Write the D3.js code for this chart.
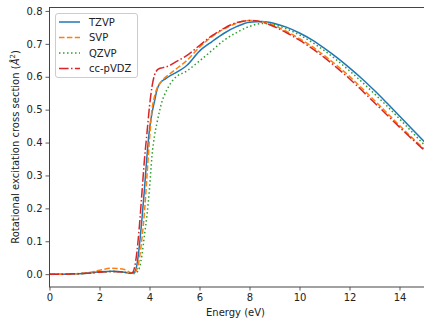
<!DOCTYPE html>
<html>
<head>
<meta charset="utf-8">
<script src="https://cdn.jsdelivr.net/npm/d3@7"></script>
<style>
  body { margin: 0; background: #fff; }
  svg text { font-family: "DejaVu Sans", sans-serif; fill: #222; }
</style>
</head>
<body>
<div id="chart"></div>
<script>
// energies (eV) shared by every series
var energy = [0, 0.5, 1, 1.5, 2, 2.5, 3, 3.2, 3.3, 3.4, 3.5, 3.6, 3.7, 3.8, 3.9, 4.0, 4.1, 4.2, 4.3, 4.4, 4.5, 4.6, 4.8, 5.0,
  5.5, 6.0, 6.5, 7.0, 7.5, 8.0, 8.5, 9.0, 9.5, 10, 10.5, 11, 11.5, 12, 12.5, 13, 13.5, 14, 14.5, 15];

var tzvp = [0, 0, 0.001, 0.003, 0.007, 0.009, 0.006, 0.003, 0.003, 0.006, 0.03, 0.09, 0.17, 0.26, 0.36, 0.44, 0.49, 0.525, 0.56, 0.578, 0.587, 0.592, 0.602, 0.61,
  0.635, 0.678, 0.707, 0.733, 0.753, 0.766, 0.768, 0.762, 0.75, 0.733, 0.712, 0.686, 0.658, 0.627, 0.594, 0.558, 0.52, 0.481, 0.441, 0.402];

var svp = [0, 0, 0.001, 0.004, 0.012, 0.018, 0.014, 0.006, 0.004, 0.005, 0.015, 0.05, 0.11, 0.19, 0.3, 0.41, 0.5, 0.54, 0.565, 0.578, 0.588, 0.596, 0.608, 0.62,
  0.65, 0.69, 0.722, 0.746, 0.763, 0.771, 0.767, 0.755, 0.737, 0.716, 0.692, 0.664, 0.634, 0.601, 0.565, 0.528, 0.49, 0.452, 0.415, 0.38];

var qzvp = [0, 0, 0.001, 0.003, 0.006, 0.008, 0.006, 0.003, 0.002, 0.002, 0.006, 0.02, 0.06, 0.12, 0.18, 0.26, 0.36, 0.42, 0.46, 0.495, 0.525, 0.545, 0.575, 0.595,
  0.618, 0.648, 0.68, 0.712, 0.735, 0.753, 0.762, 0.758, 0.745, 0.727, 0.705, 0.679, 0.65, 0.618, 0.584, 0.548, 0.511, 0.472, 0.432, 0.392];

var ccpvdz = [0, 0, 0.001, 0.003, 0.006, 0.008, 0.006, 0.003, 0.004, 0.02, 0.07, 0.15, 0.25, 0.35, 0.43, 0.51, 0.57, 0.605, 0.62, 0.625, 0.627, 0.629, 0.634, 0.643,
  0.665, 0.695, 0.725, 0.748, 0.765, 0.771, 0.766, 0.752, 0.733, 0.711, 0.686, 0.658, 0.627, 0.594, 0.558, 0.521, 0.484, 0.447, 0.411, 0.376];

var seriesNames = ["TZVP", "SVP", "QZVP", "cc-pVDZ"];
var xTicks = [0, 2, 4, 6, 8, 10, 12, 14];
var yTicks = [0.0, 0.1, 0.2, 0.3, 0.4, 0.5, 0.6, 0.7, 0.8];

var series = [
  { name: seriesNames[0], values: tzvp, color: "#1f77b4", dash: null },
  { name: seriesNames[1], values: svp, color: "#ff7f0e", dash: "5.5,2.4" },
  { name: seriesNames[2], values: qzvp, color: "#2ca02c", dash: "1.5,2.5" },
  { name: seriesNames[3], values: ccpvdz, color: "#d62728", dash: "9.6,2.4,1.5,2.4" }
];

var svgWidth = 424, svgHeight = 320;
var margin = { top: 7, right: 0, bottom: 33, left: 49 };
var width = svgWidth - margin.left - margin.right;
var height = svgHeight - margin.top - margin.bottom;

var svg = d3.select("#chart").append("svg")
  .attr("width", svgWidth)
  .attr("height", svgHeight);

var chartGroup = svg.append("g")
  .attr("transform", `translate(${margin.left}, ${margin.top})`);

var x = d3.scaleLinear().domain([0, 15]).range([0.5, width + 0.5]);
var y = d3.scaleLinear().domain([-0.039, 0.812]).range([height, 0]);

// clip lines to the axes box
svg.append("defs").append("clipPath").attr("id", "clip")
  .append("rect").attr("x", 0).attr("y", 0).attr("width", width + 1).attr("height", height);

var line = d3.line()
  .x(d => x(d[0]))
  .y(d => y(d[1]))
  .curve(d3.curveMonotoneX);

chartGroup.append("g").attr("clip-path", "url(#clip)")
  .selectAll("path")
  .data(series)
  .enter()
  .append("path")
  .attr("fill", "none")
  .attr("stroke", d => d.color)
  .attr("stroke-width", 1.5)
  .attr("stroke-dasharray", d => d.dash)
  .attr("d", d => line(energy.map((e, i) => [e, d.values[i]])));

// axes
var bottomAxis = d3.axisBottom(x).tickValues(xTicks).tickFormat(d3.format("d")).tickSizeOuter(0).tickSize(3.5).tickPadding(3.5);
var leftAxis = d3.axisLeft(y).tickValues(yTicks).tickFormat(d3.format(".1f")).tickSizeOuter(0).tickSize(3.5).tickPadding(3.5);

var xAxis = chartGroup.append("g")
  .attr("transform", `translate(0, ${height})`)
  .call(bottomAxis);
var yAxis = chartGroup.append("g")
  .attr("transform", "translate(0.5, 0)")
  .call(leftAxis);

[xAxis, yAxis].forEach(function(a) {
  a.select(".domain").remove();
  a.selectAll("line").attr("stroke", "#333").attr("stroke-width", 0.8);
  a.selectAll("text").style("font-size", "10px").attr("fill", "#222");
});
yAxis.selectAll("line").attr("transform", "translate(-0.5,0)");

// spines
chartGroup.append("rect")
  .attr("x", 0.5).attr("y", 0.5)
  .attr("width", width).attr("height", height - 0.5)
  .attr("fill", "none")
  .attr("stroke", "#444")
  .attr("stroke-width", 1);

// axis labels
svg.append("text")
  .attr("x", margin.left + width / 2 - 1)
  .attr("y", 316)
  .attr("text-anchor", "middle")
  .style("font-size", "10px")
  .text("Energy (eV)");

var yLabel = svg.append("text")
  .attr("transform", `translate(19, ${margin.top + height / 2}) rotate(-90)`)
  .attr("text-anchor", "middle")
  .style("font-size", "10px");
yLabel.append("tspan").text("Rotational excitation cross section (");
yLabel.append("tspan").style("font-style", "italic").text("Å");
yLabel.append("tspan").attr("dy", -4).style("font-size", "7px").text("2");
yLabel.append("tspan").attr("dy", 4).text(")");

// legend
var legend = svg.append("g").attr("transform", "translate(55, 13)");
legend.append("rect")
  .attr("x", 0.5).attr("y", 0.5)
  .attr("width", 82).attr("height", 64)
  .attr("rx", 2.5)
  .attr("fill", "#fff")
  .attr("fill-opacity", 0.8)
  .attr("stroke", "#ccc")
  .attr("stroke-width", 1);

var rows = legend.selectAll("g.row")
  .data(series)
  .enter()
  .append("g")
  .attr("class", "row")
  .attr("transform", (d, i) => `translate(0, ${9 + i * 15.5})`);

rows.append("line")
  .attr("x1", 4).attr("x2", 25)
  .attr("y1", 0).attr("y2", 0)
  .attr("stroke", d => d.color)
  .attr("stroke-width", 1.5)
  .attr("stroke-dasharray", d => d.dash);

rows.append("text")
  .attr("x", 34)
  .attr("y", 3.5)
  .style("font-size", "10px")
  .text(d => d.name);
</script>
</body>
</html>
